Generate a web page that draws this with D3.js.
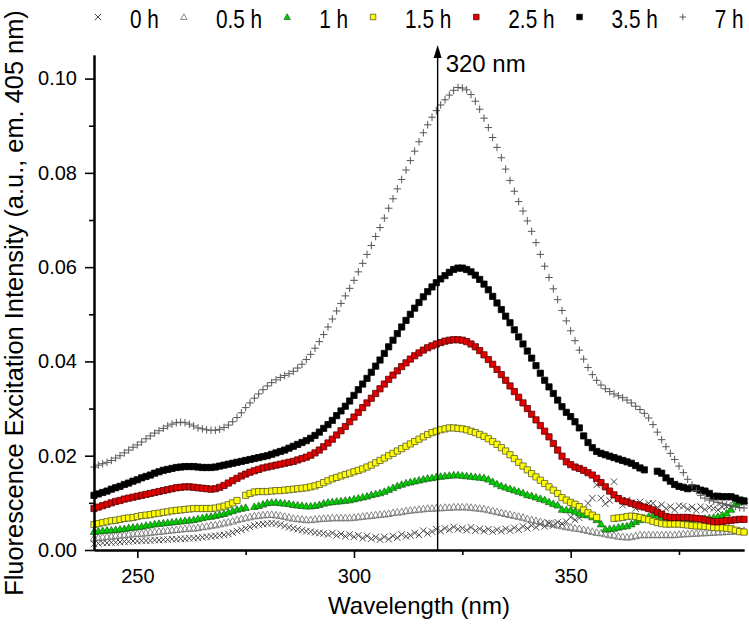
<!DOCTYPE html>
<html>
<head>
<meta charset="utf-8">
<script src="https://cdn.jsdelivr.net/npm/d3@7"></script>
<style>
  body { margin: 0; background: #fff; }
  svg { display: block; font-family: "Liberation Sans", Arial, sans-serif; }
</style>
</head>
<body>
<svg id="chart" width="749" height="630"></svg>
<script>
// --- Data (one value per nm from 240 to 390) ---
const startNm = 240;

const s0h = [
  .0013,.0014,.0015,.0015,.0016,.0016,.0017,.0018,.0018,.0019,
  .0019,.0020,.0020,.0020,.0021,.0021,.0022,.0022,.0023,.0023,
  .0024,.0024,.0025,.0025,.0026,.0027,.0028,.0029,.0030,.0031,
  .0032,.0034,.0037,.0040,.0043,.0046,.0049,.0052,.0054,.0055,
  .0056,.0057,.0056,.0054,.0051,.0048,.0046,.0044,.0042,.0040,
  .0039,.0037,.0036,.0035,.0033,.0036,.0031,.0034,.0029,.0033,
  .0028,.0031,.0025,.0030,.0024,.0027,.0022,.0028,.0023,.0030,
  .0026,.0033,.0029,.0031,.0036,.0032,.0041,.0035,.0039,.0044,
  .0040,.0046,.0043,.0049,.0044,.0046,.0042,.0048,.0041,.0045,
  .0040,.0044,.0039,.0043,.0040,.0045,.0041,.0047,.0043,.0050,
  .0046,.0052,.0048,.0055,.0050,.0057,.0052,.0059,.0055,.0060,
  .0070,.0064,.0068,.0085,.0099,.0110,.0138,.0110,.0098,.0105,
  .0145,.0110,.0095,.0106,.0100,.0088,.0102,.0095,.0099,.0099,
  .0090,.0096,.0088,.0092,.0085,.0094,.0093,.0087,.0091,.0084,
  .0092,.0086,.0090,.0088,.0085,.0091,.0092,.0089,.0095,.0106,
  .0100
];

const s05h = [
  .0025,.0026,.0027,.0028,.0029,.0030,.0031,.0032,.0033,.0034,
  .0035,.0035,.0036,.0037,.0038,.0039,.0040,.0041,.0042,.0043,
  .0044,.0045,.0046,.0046,.0047,.0049,.0050,.0052,.0053,.0055,
  .0057,.0059,.0061,.0064,.0066,.0068,.0070,.0072,.0073,.0074,
  .0075,.0075,.0074,.0073,.0071,.0069,.0067,.0066,.0065,.0064,
  .0064,.0065,.0066,.0067,.0067,.0068,.0068,.0068,.0068,.0068,
  .0069,.0070,.0071,.0072,.0073,.0074,.0075,.0076,.0077,.0079,
  .0080,.0081,.0083,.0084,.0085,.0086,.0087,.0088,.0088,.0089,
  .0089,.0090,.0090,.0091,.0091,.0091,.0091,.0090,.0089,.0088,
  .0087,.0085,.0083,.0081,.0079,.0077,.0075,.0073,.0071,.0069,
  .0066,.0064,.0062,.0060,.0058,.0056,.0055,.0053,.0051,.0049,
  .0048,.0046,.0045,.0043,.0041,.0039,.0037,.0036,.0034,.0032,
  .0031,.0029,.0028,.0027,.0028,.0030,.0032,.0032,.0032,.0032,
  .0032,.0032,.0032,.0032,.0032,.0033,.0034,.0034,.0035,.0035,
  .0036,.0036,.0037,.0037,.0038,.0038,.0039,.0039,.0040,.0041,
  .0041
];

const s1h = [
  .0039,.0040,.0041,.0042,.0042,.0043,.0044,.0045,.0047,.0048,
  .0049,.0050,.0052,.0053,.0055,.0056,.0057,.0058,.0059,.0060,
  .0061,.0062,.0063,.0064,.0066,.0068,.0070,.0071,.0073,.0075,
  .0077,.0080,.0083,.0086,.0088,.0090,null,.0092,.0094,.0097,
  .0100,.0101,.0101,.0100,.0099,.0098,.0096,.0095,.0094,.0093,
  .0093,.0094,.0096,.0099,.0101,.0102,.0103,.0104,.0105,.0106,
  .0108,.0110,.0112,.0114,.0117,.0119,.0121,.0124,.0128,.0132,
  .0136,.0139,.0142,.0144,.0146,.0148,.0150,.0152,.0153,.0155,
  .0156,.0157,.0158,.0159,.0159,.0158,.0157,.0156,.0155,.0154,
  .0153,.0150,.0145,.0140,.0136,.0133,.0130,.0127,.0124,.0121,
  .0117,.0115,.0112,.0109,.0106,.0102,.0098,.0095,.0086,.0085,
  .0085,.0082,.0078,.0075,.0074,.0070,.0064,.0055,.0044,.0045,
  .0046,.0048,.0050,.0051,.0055,.0060,.0064,.0068,.0071,.0074,
  .0072,.0070,.0068,.0067,.0066,.0066,.0066,.0066,.0066,.0066,
  .0066,.0067,.0068,.0069,.0071,.0074,.0078,.0086,.0098,.0102,
  .0104
];

const s15h = [
  .0054,.0056,.0058,.0060,.0062,.0063,.0065,.0067,.0068,.0069,
  .0071,.0073,.0074,.0075,.0077,.0078,.0080,.0081,.0083,.0084,
  .0085,.0086,.0087,.0088,.0088,.0088,.0088,.0088,.0089,.0091,
  .0093,.0096,.0100,.0105,null,.0116,.0120,.0123,.0124,.0124,
  .0124,.0125,.0126,.0126,.0127,.0128,.0129,.0130,.0131,.0132,
  .0134,.0136,.0139,.0143,.0147,.0151,.0154,.0157,.0160,.0163,
  .0166,.0169,.0172,.0176,.0180,.0185,.0190,.0195,.0200,.0205,
  .0210,.0215,.0220,.0225,.0230,.0235,.0240,.0245,.0249,.0252,
  .0255,.0257,.0259,.0259,.0258,.0257,.0255,.0252,.0249,.0245,
  .0241,.0236,.0230,.0224,.0217,.0210,.0202,.0194,.0186,.0178,
  .0170,.0162,.0155,.0148,.0141,.0134,.0127,.0120,.0111,.0106,
  .0101,.0097,.0092,.0085,.0079,.0074,.0069,null,null,null,
  .0067,.0068,.0069,.0071,.0072,.0071,.0069,.0066,.0064,.0061,
  .0058,.0056,.0055,.0055,.0055,.0055,.0054,.0053,.0052,.0051,
  .0051,.0050,.0049,.0048,.0047,.0047,.0046,.0045,.0042,.0039,
  .0038
];

const s25h = [
  .0088,.0091,.0094,.0097,.0100,.0103,.0105,.0108,.0110,.0112,
  .0114,.0116,.0118,.0120,.0122,.0124,.0126,.0128,.0130,.0132,
  .0133,.0134,.0134,.0133,.0132,.0131,.0130,.0129,.0130,.0133,
  .0137,.0142,.0147,.0152,.0157,.0161,.0165,.0168,.0171,.0174,
  .0176,.0178,.0180,.0182,.0184,.0186,.0188,.0191,.0194,.0197,
  .0201,.0206,.0212,.0219,.0227,.0235,.0244,.0253,.0262,.0272,
  .0282,.0292,.0302,.0312,.0322,.0332,.0342,.0352,.0362,.0371,
  .0380,.0389,.0397,.0405,.0412,.0418,.0424,.0429,.0433,.0437,
  .0440,.0443,.0445,.0446,.0446,.0445,.0442,.0437,.0431,.0423,
  .0414,.0404,.0394,.0383,.0372,.0360,.0348,.0336,.0324,.0312,
  .0300,.0288,.0276,.0264,.0252,.0240,.0226,.0212,.0199,.0187,
  .0181,.0176,.0173,.0169,.0164,.0159,.0152,.0143,.0134,.0125,
  .0117,.0109,.0104,.0102,.0099,.0096,.0093,.0091,.0088,.0085,
  .0080,.0076,.0071,.0069,.0069,.0069,.0069,.0069,.0068,.0067,
  .0066,.0064,.0062,.0060,.0060,.0061,.0062,.0063,.0064,.0065,
  .0065
];

const s35h = [
  .0116,.0119,.0122,.0125,.0129,.0132,.0135,.0139,.0142,.0146,
  .0149,.0153,.0156,.0159,.0163,.0166,.0169,.0171,.0173,.0175,
  .0176,.0177,.0177,.0177,.0176,.0175,.0175,.0175,.0176,.0178,
  .0180,.0182,.0184,.0186,.0188,.0190,.0192,.0194,.0196,.0198,
  .0200,.0203,.0206,.0209,.0212,.0216,.0220,.0224,.0228,.0232,
  .0237,.0243,.0250,.0258,.0266,.0275,.0285,.0295,.0305,.0316,
  .0328,.0340,.0352,.0364,.0377,.0390,.0403,.0417,.0431,.0445,
  .0459,.0473,.0487,.0500,.0513,.0525,.0537,.0548,.0558,.0567,
  .0575,.0582,.0589,.0595,.0598,.0598,.0595,.0590,.0583,.0574,
  .0564,.0552,.0538,.0524,.0510,.0496,.0482,.0467,.0452,.0437,
  .0422,.0407,.0391,.0375,.0360,.0346,.0332,.0318,.0304,.0292,
  .0283,.0272,.0259,.0242,.0228,.0217,.0209,.0205,.0202,.0199,
  .0196,.0193,.0190,.0187,.0184,.0179,.0174,.0170,null,null,
  .0167,.0163,.0153,.0146,.0139,.0135,.0133,.0130,.0132,.0131,
  .0127,.0125,.0120,.0114,.0114,.0113,.0113,.0113,.0110,.0106,
  .0104
];

const s7h = [
  .0176,.0180,.0183,.0186,.0190,.0195,.0200,.0206,.0212,.0218,
  .0223,.0229,.0236,.0242,.0248,.0253,.0258,.0263,.0267,.0270,
  .0271,.0270,.0267,.0263,.0259,.0257,.0255,.0254,.0254,.0256,
  .0260,.0265,.0272,.0281,.0291,.0302,.0312,.0322,.0331,.0340,
  .0348,.0355,.0361,.0366,.0370,.0374,.0379,.0386,.0394,.0404,
  .0415,.0428,.0442,.0457,.0473,.0490,.0507,.0523,.0539,.0555,
  .0572,.0590,.0608,.0627,.0646,.0665,.0684,.0704,.0725,.0745,
  .0766,.0786,.0806,.0826,.0846,.0866,.0885,.0902,.0918,.0932,
  .0944,.0955,.0965,.0975,.0981,.0980,.0976,.0966,.0952,.0935,
  .0916,.0896,.0875,.0854,.0832,.0808,.0784,.0761,.0739,.0719,
  .0698,.0676,.0652,.0627,.0602,.0578,.0554,.0531,.0508,.0486,
  .0465,.0444,.0424,.0405,.0387,.0372,.0360,.0350,.0342,.0336,
  .0331,.0327,.0323,.0318,.0312,.0305,.0298,.0290,.0280,.0266,
  .0250,.0234,.0219,.0205,.0192,.0178,.0164,.0150,.0138,.0126,
  .0116,.0110,.0106,.0104,.0101,.0099,.0096,.0094,.0092,.0090,
  .0089
];

const seriesLabels = ["0 h", "0.5 h", "1 h", "1.5 h", "2.5 h", "3.5 h", "7 h"];
const seriesValues = [s0h, s05h, s1h, s15h, s25h, s35h, s7h];

const xMajorTicks = [250, 300, 350];
const xMinorTicks = [275, 325, 375];
const yMajorTicks = [0, 0.02, 0.04, 0.06, 0.08, 0.10];
const yMinorTicks = [0.01, 0.03, 0.05, 0.07, 0.09];

const arrowNm = 319.3;
const arrowLabel = "320 nm";

// --- Styles per series ---
const styles = [
  {shape: "times",   fill: "none",    stroke: "#4a4a4a", sw: 1},
  {shape: "triOpen", fill: "none",    stroke: "#6a6a6a", sw: 0.8},
  {shape: "tri",     fill: "#00d000", stroke: "#1a5a1a", sw: 0.7},
  {shape: "square",  fill: "#ffff00", stroke: "#5a5a2a", sw: 0.8},
  {shape: "square",  fill: "#e00000", stroke: "#5a0000", sw: 0.8},
  {shape: "square",  fill: "#000",    stroke: "#000",    sw: 0.8},
  {shape: "plus",    fill: "none",    stroke: "#555",    sw: 1}
];

function markerPath(shape, s) {
  const h = s / 2;
  if (shape === "square") return `M${-h},${-h}H${h}V${h}H${-h}Z`;
  if (shape === "tri" || shape === "triOpen") return `M0,${-h}L${h},${h * 0.75}L${-h},${h * 0.75}Z`;
  if (shape === "times") return `M${-h},${-h}L${h},${h}M${-h},${h}L${h},${-h}`;
  if (shape === "plus") return `M${-h},0H${h}M0,${-h}V${h}`;
}
const markerSize = {square: 6.2, tri: 7.5, triOpen: 7.5, times: 6.5, plus: 7.5};

// --- Scales ---
const svg = d3.select("#chart");
const x = d3.scaleLinear().domain([240, 390]).range([94, 744]);
const y = d3.scaleLinear().domain([0, 0.105]).range([550, 55]);

// --- Series markers ---
seriesValues.forEach((vals, k) => {
  const st = styles[k];
  const pts = vals.map((v, i) => ({nm: startNm + i, v: v})).filter(d => d.v !== null);
  svg.append("g")
    .selectAll("path")
    .data(pts)
    .enter()
    .append("path")
    .attr("transform", d => `translate(${x(d.nm)},${y(d.v)})`)
    .attr("d", markerPath(st.shape, markerSize[st.shape]))
    .attr("fill", st.fill)
    .attr("stroke", st.stroke)
    .attr("stroke-width", st.sw);
});

// --- Axes ---
function styleAxis(g) {
  g.select(".domain").attr("stroke", "#000").attr("stroke-width", 2);
  g.selectAll(".tick line").attr("stroke", "#000").attr("stroke-width", 1.6);
  g.selectAll(".tick text").attr("font-size", 20).attr("fill", "#000")
    .attr("font-family", '"Liberation Sans", Arial, sans-serif');
}

svg.append("g")
  .attr("transform", "translate(0,550)")
  .call(d3.axisBottom(x).tickValues(xMinorTicks).tickSize(5).tickSizeOuter(0).tickFormat(""))
  .call(styleAxis);
svg.append("g")
  .attr("transform", "translate(0,550)")
  .call(d3.axisBottom(x).tickValues(xMajorTicks).tickSize(8).tickPadding(11).tickSizeOuter(0).tickFormat(d3.format("d")))
  .call(styleAxis);

svg.append("g")
  .attr("transform", "translate(94,0)")
  .call(d3.axisLeft(y).tickValues(yMinorTicks).tickSize(5).tickSizeOuter(0).tickFormat(""))
  .call(styleAxis);
svg.append("g")
  .attr("transform", "translate(94,0)")
  .call(d3.axisLeft(y).tickValues(yMajorTicks).tickSize(9).tickPadding(8).tickSizeOuter(0).tickFormat(d3.format(".2f")))
  .call(styleAxis);

// --- Axis titles ---
svg.append("text")
  .attr("x", 419).attr("y", 614)
  .attr("text-anchor", "middle")
  .attr("font-size", 24)
  .text("Wavelength (nm)");

svg.append("text")
  .attr("transform", "translate(23,303) rotate(-90)")
  .attr("text-anchor", "middle")
  .attr("font-size", 25.4)
  .text("Fluorescence Excitation Intensity (a.u., em. 405 nm)");

// --- 320 nm arrow ---
const ax = x(arrowNm);
svg.append("line")
  .attr("x1", ax).attr("x2", ax)
  .attr("y1", y(0)).attr("y2", 56)
  .attr("stroke", "#000").attr("stroke-width", 1.4);
svg.append("path")
  .attr("d", `M${ax},45L${ax + 4},58L${ax - 4},58Z`)
  .attr("fill", "#000");
svg.append("text")
  .attr("x", ax + 8).attr("y", 72)
  .attr("font-size", 24)
  .text(arrowLabel);

// --- Legend (text squeezed horizontally, like a narrow face) ---
const legend = svg.append("g").attr("class", "legend");
const squeeze = 0.8;
let lx = 98;
seriesLabels.forEach((label, k) => {
  const st = styles[k];
  legend.append("path")
    .attr("transform", `translate(${lx},17)`)
    .attr("d", markerPath(st.shape, st.shape === "square" ? 5.5 : 6.5))
    .attr("fill", st.fill)
    .attr("stroke", st.stroke)
    .attr("stroke-width", st.sw);
  const t = legend.append("text")
    .attr("transform", `translate(${lx + 32},28) scale(${squeeze},1)`)
    .attr("font-size", 26)
    .text(label);
  lx += 32 + t.node().getComputedTextLength() * squeeze + 25;
});
</script>
</body>
</html>
